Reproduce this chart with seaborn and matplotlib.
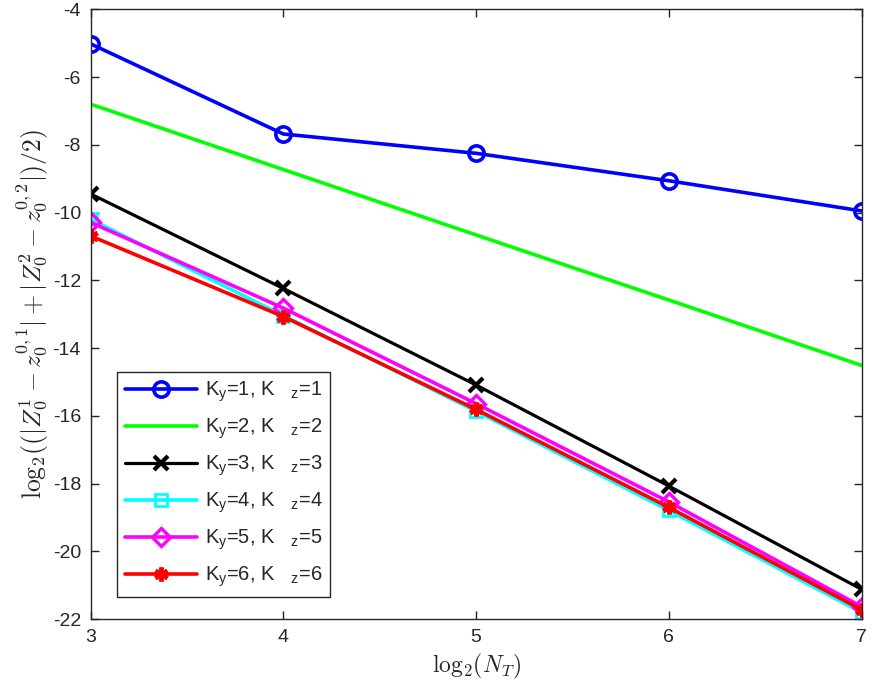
import numpy as np
import pandas as pd
import matplotlib
matplotlib.use("Agg")
import matplotlib.pyplot as plt
import seaborn as sns

x_vals = [3, 4, 5, 6, 7]
k1 = [-5.02, -7.68, -8.25, -9.06, -9.95]
k2 = [-6.80, -8.73, -10.66, -12.58, -14.51]
k3 = [-9.45, -12.24, -15.09, -18.07, -21.12]
k4 = [-10.20, -13.04, -15.86, -18.79, -21.80]
k5 = [-10.29, -12.82, -15.64, -18.54, -21.63]
k6 = [-10.69, -13.07, -15.81, -18.70, -21.72]
labels = [r"K$_y$=%d, K   $_z$=%d" % (i, i) for i in range(1, 7)]
x_ticks = [3, 4, 5, 6, 7]
y_ticks = [-22, -20, -18, -16, -14, -12, -10, -8, -6, -4]

series = [k1, k2, k3, k4, k5, k6]
colors = ["#0000ff", "#00ff00", "#000000", "#00ffff", "#ff00ff", "#ff0000"]
markers = ["o", None, "x", "s", "D", (6, 2, 0)]
msizes = [11, 0, 10, 9, 9, 10]
mews = [2.6, 0, 3.0, 2.0, 2.4, 3.2]
lws = [2.6, 2.6, 2.3, 2.6, 2.6, 2.6]

sns.set_theme(style="ticks")
plt.rcParams["font.family"] = ["Liberation Sans", "DejaVu Sans"]
plt.rcParams["mathtext.fontset"] = "custom"
plt.rcParams["mathtext.rm"] = "Liberation Sans"
plt.rcParams["mathtext.it"] = "Liberation Sans"

fig = plt.figure(figsize=(8.72, 6.91), dpi=100)
ax = fig.add_axes([0.104, 0.104, 0.884, 0.8825])

for s, lab, c, m, ms, mew, lw in zip(series, labels, colors, markers, msizes, mews, lws):
    df = pd.DataFrame({"x": x_vals, "y": s})
    kw = dict(color=c, linewidth=lw, label=lab)
    if m is not None:
        kw.update(marker=m, markersize=ms, markeredgewidth=mew,
                  markeredgecolor=c,
                  markerfacecolor=(c if m == (6, 2, 0) else "none"))
    sns.lineplot(data=df, x="x", y="y", ax=ax, **kw)

ax.set_xlim(3, 7)
ax.set_ylim(-22, -4)
ax.set_xticks(x_ticks)
ax.set_yticks(y_ticks)
ax.set_xticklabels([str(t) for t in x_ticks])
ax.set_yticklabels([str(t) for t in y_ticks])
gray = (0.15, 0.15, 0.15)
for sp in ax.spines.values():
    sp.set_visible(True)
    sp.set_color(gray)
    sp.set_linewidth(1.0)
ax.tick_params(direction="in", length=6, width=1.0, colors=gray,
               top=True, right=True, labelsize=14, pad=7)

ax.set_xlabel(r"$\mathrm{log}_2(N_T)$", fontsize=17, color=gray, labelpad=4)
ax.set_ylabel(r"$\mathrm{log}_2((|Z_0^1 - z_0^{0,1}| + |Z_0^2 - z_0^{0,2}|)/2)$",
              fontsize=18.5, color=gray, labelpad=1)
ax.xaxis.label.set_math_fontfamily("cm")
ax.yaxis.label.set_math_fontfamily("cm")

leg = ax.legend(loc="lower left", bbox_to_anchor=(0.034, 0.036), borderaxespad=0,
                fontsize=14.5, frameon=True, fancybox=False, framealpha=1,
                edgecolor=gray, handlelength=3.6, handletextpad=0.35,
                labelspacing=0.62, borderpad=0.4)
leg.get_frame().set_linewidth(1.0)
for t in leg.get_texts():
    t.set_color(gray)

fig.savefig("out.png", dpi=100)
